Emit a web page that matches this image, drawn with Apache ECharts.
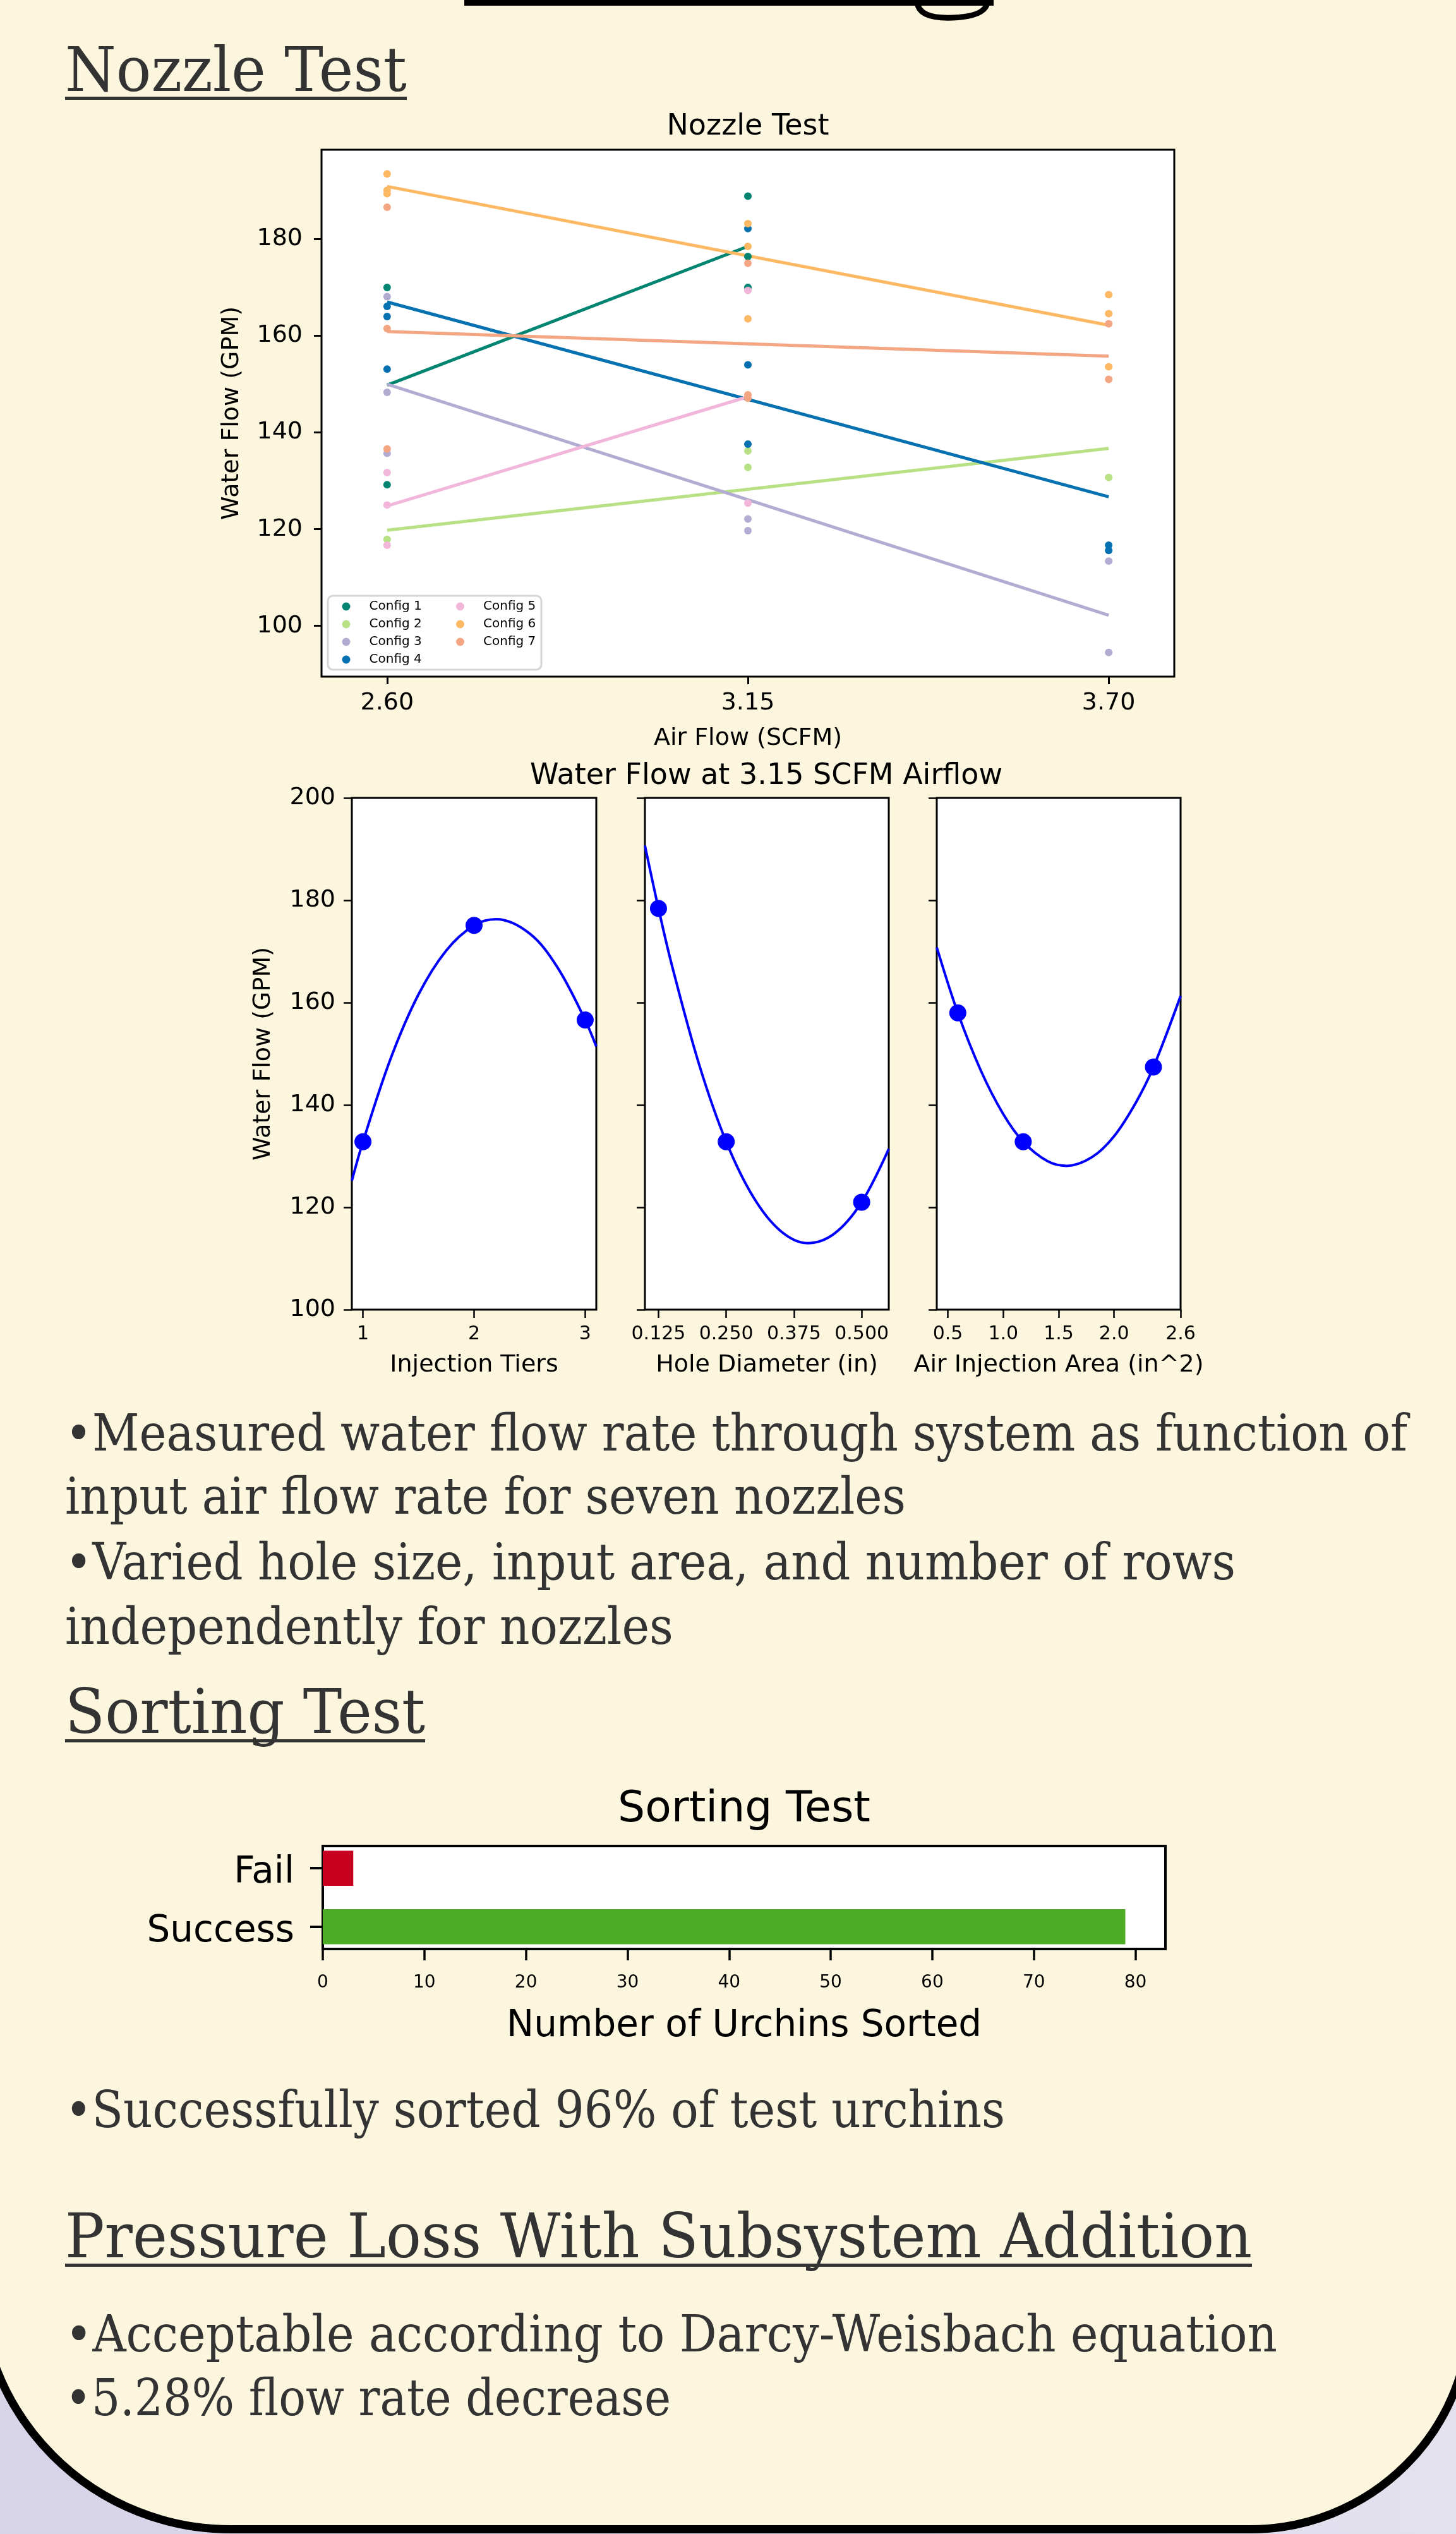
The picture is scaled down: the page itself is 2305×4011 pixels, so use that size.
<!DOCTYPE html>
<html><head><meta charset="utf-8">
<script src="https://cdn.jsdelivr.net/npm/echarts@6/dist/echarts.min.js"></script>
<style>
html,body{margin:0;padding:0;width:2305px;height:4011px;overflow:hidden;}
#bg{position:absolute;left:0;top:0;}
#chart{position:absolute;left:0;top:0;width:2305px;height:4011px;}
.body{font-family:"DejaVu Serif",serif;fill:#333;font-size:80px;}
.head{font-family:"DejaVu Serif",serif;fill:#333;font-size:98px;}
</style></head><body>
<svg id="bg" width="2305" height="4011" xmlns="http://www.w3.org/2000/svg">
<defs><linearGradient id="lav" x1="0" y1="0" x2="1" y2="0"><stop offset="0" stop-color="#d7d3e8"/><stop offset="1" stop-color="#e4e1ef"/></linearGradient></defs>
<rect x="0" y="0" width="2305" height="4011" fill="url(#lav)"/>
<path d="M -32.5 -100 L -32.5 3606 A 397.5 397.5 0 0 0 365 4003.5 L 1980 4003.5 A 347.5 347.5 0 0 0 2327.5 3656 L 2327.5 -100 Z" fill="#fdf6de" stroke="#000" stroke-width="13"/>
<rect x="735" y="0" width="838" height="9" fill="#000"/>
<path d="M1452,4 Q1455,30 1508,28 Q1560,26 1563,4" fill="none" stroke="#000" stroke-width="9"/>
<text class="head" x="103" y="144" textLength="541" lengthAdjust="spacingAndGlyphs">Nozzle Test</text>
<rect x="103" y="153" width="541" height="5" fill="#333"/>
<text class="body" x="103" y="2296" textLength="2125" lengthAdjust="spacingAndGlyphs">•Measured water flow rate through system as function of</text>
<text class="body" x="103" y="2396" textLength="1331" lengthAdjust="spacingAndGlyphs">input air flow rate for seven nozzles</text>
<text class="body" x="103" y="2500" textLength="1853" lengthAdjust="spacingAndGlyphs">•Varied hole size, input area, and number of rows</text>
<text class="body" x="103" y="2602" textLength="963" lengthAdjust="spacingAndGlyphs">independently for nozzles</text>
<text class="head" x="103" y="2743" textLength="570" lengthAdjust="spacingAndGlyphs">Sorting Test</text>
<rect x="103" y="2753" width="570" height="5" fill="#333"/>
<text class="body" x="103" y="3367" textLength="1488" lengthAdjust="spacingAndGlyphs">•Successfully sorted 96% of test urchins</text>
<text class="head" x="103" y="3573" textLength="1879" lengthAdjust="spacingAndGlyphs">Pressure Loss With Subsystem Addition</text>
<rect x="103" y="3583" width="1879" height="5" fill="#333"/>
<text class="body" x="103" y="3722" textLength="1919" lengthAdjust="spacingAndGlyphs">•Acceptable according to Darcy-Weisbach equation</text>
<text class="body" x="103" y="3823" textLength="959" lengthAdjust="spacingAndGlyphs">•5.28% flow rate decrease</text>
</svg>
<div id="chart"></div>
<script>
// ---------- Nozzle Test data ----------
const airFlowTicks = [2.60, 3.15, 3.70];
const waterFlowTicks = [100, 120, 140, 160, 180];
const configNames = ['Config 1', 'Config 2', 'Config 3', 'Config 4', 'Config 5', 'Config 6', 'Config 7'];
const configColors = ['#018571', '#b8e186', '#b2abd2', '#0571b0', '#f1b6da', '#fdb863', '#f4a582'];
const config1Points = [[2.60,170.0],[2.60,129.2],[3.15,188.9],[3.15,176.4],[3.15,170.0]];
const config2Points = [[2.60,117.9],[3.15,136.2],[3.15,132.8],[3.70,130.7]];
const config3Points = [[2.60,168.1],[2.60,148.3],[2.60,135.7],[3.15,122.1],[3.15,119.7],[3.70,113.4],[3.70,94.5]];
const config4Points = [[2.60,166.1],[2.60,164.0],[2.60,153.1],[3.15,182.2],[3.15,154.0],[3.15,137.6],[3.70,116.7],[3.70,115.6]];
const config5Points = [[2.60,131.7],[2.60,125.0],[2.60,116.7],[3.15,169.4],[3.15,125.4]];
const config6Points = [[2.60,193.5],[2.60,190.1],[2.60,189.4],[3.15,183.2],[3.15,178.5],[3.15,163.5],[3.70,168.5],[3.70,164.6],[3.70,153.6]];
const config7Points = [[2.60,186.6],[2.60,161.5],[2.60,136.6],[3.15,175.0],[3.15,147.8],[3.15,147.1],[3.70,162.5],[3.70,151.0]];
const config1Fit = [[2.60,149.8],[3.15,178.5]];
const config2Fit = [[2.60,119.8],[3.70,136.7]];
const config3Fit = [[2.60,150.0],[3.70,102.2]];
const config4Fit = [[2.60,167.0],[3.70,126.7]];
const config5Fit = [[2.60,124.8],[3.15,147.4]];
const config6Fit = [[2.60,190.9],[3.70,162.2]];
const config7Fit = [[2.60,160.9],[3.70,155.8]];

// ---------- Water flow at 3.15 SCFM ----------
const tiersTicks = [1, 2, 3];
const injectionTiers = [1, 2, 3];
const tiersFlow = [132.8, 175.1, 156.6];
const tiersCurveX = [0.9, 1.0, 1.25, 1.5, 1.75, 2.0, 2.2, 2.5, 2.75, 3.0, 3.1];
const tiersCurveY = [125.2, 132.8, 149.1, 161.6, 170.2, 175.1, 176.3, 173.5, 166.9, 156.6, 151.4];

const holeTicks = [0.125, 0.25, 0.375, 0.5];
const holeDiameter = [0.125, 0.25, 0.5];
const holeFlow = [178.4, 132.8, 121.0];
const holeCurveX = [0.10, 0.125, 0.15, 0.20, 0.25, 0.30, 0.35, 0.40, 0.45, 0.50, 0.55];
const holeCurveY = [190.7, 178.4, 167.2, 147.9, 132.8, 122.0, 115.4, 113.0, 114.9, 121.0, 131.4];

const areaTicks = [0.5, 1.0, 1.5, 2.0, 2.6];
const airArea = [0.59, 1.18, 2.355];
const airAreaFlow = [158.0, 132.8, 147.4];
const areaCurveX = [0.4, 0.59, 0.8, 1.0, 1.18, 1.4, 1.57, 1.8, 2.0, 2.2, 2.355, 2.6];
const areaCurveY = [170.8, 158.0, 146.6, 138.2, 132.8, 129.0, 128.1, 129.8, 133.9, 140.6, 147.4, 161.3];

// ---------- Sorting Test ----------
const sortCategories = ['Success', 'Fail'];
const sortCounts = [79, 3];
const sortColors = ['#4dac26', '#ca0020'];
const sortTicks = [0, 10, 20, 30, 40, 50, 60, 70, 80];

const FONT = 'DejaVu Sans';
const configPoints = [config1Points, config2Points, config3Points, config4Points, config5Points, config6Points, config7Points];
const configFits = [config1Fit, config2Fit, config3Fit, config4Fit, config5Fit, config6Fit, config7Fit];
const zip = (a, b) => a.map((v, i) => [v, b[i]]);

function tick(len, w, custom) {
  const t = { show: true, inside: false, length: len, lineStyle: { color: '#000', width: w } };
  if (custom) t.customValues = custom;
  return t;
}
function label(size, margin, custom, fmt) {
  const l = { show: true, fontSize: size, fontFamily: FONT, color: '#000', margin: margin };
  if (custom) l.customValues = custom;
  if (fmt) l.formatter = fmt;
  return l;
}
const nameStyle = (s) => ({ fontSize: s, fontFamily: FONT, color: '#000' });
const noLine = { show: false, onZero: false };

const grids = [
  { left: 509, top: 237, width: 1350, height: 834 },
  { left: 557, top: 1263, width: 387, height: 810 },
  { left: 1021, top: 1263, width: 386, height: 810 },
  { left: 1483, top: 1263, width: 386, height: 810 },
  { left: 511, top: 2922, width: 1334, height: 163 }
].map((g, i) => Object.assign(g, { show: true, backgroundColor: '#fff', borderColor: '#000', borderWidth: i === 4 ? 4 : 3 }));

const xAxes = [
  { gridIndex: 0, type: 'value', position: 'bottom', min: 2.5, max: 3.8, axisLine: noLine, splitLine: { show: false },
    axisTick: tick(12, 3, airFlowTicks), axisLabel: label(38, 23, airFlowTicks, v => v.toFixed(2)),
    name: 'Air Flow (SCFM)', nameLocation: 'middle', nameGap: 79, nameTextStyle: nameStyle(38) },
  { gridIndex: 1, type: 'value', position: 'bottom', min: 0.9, max: 3.1, axisLine: noLine, splitLine: { show: false },
    axisTick: tick(13, 2.5, tiersTicks), axisLabel: label(30, 24, tiersTicks, v => String(Math.round(v))),
    name: 'Injection Tiers', nameLocation: 'middle', nameGap: 69, nameTextStyle: nameStyle(38) },
  { gridIndex: 2, type: 'value', position: 'bottom', min: 0.1, max: 0.55, axisLine: noLine, splitLine: { show: false },
    axisTick: tick(13, 2.5, holeTicks), axisLabel: label(30, 24, holeTicks, v => v.toFixed(3)),
    name: 'Hole Diameter (in)', nameLocation: 'middle', nameGap: 69, nameTextStyle: nameStyle(38) },
  { gridIndex: 3, type: 'value', position: 'bottom', min: 0.4, max: 2.6, axisLine: noLine, splitLine: { show: false },
    axisTick: tick(13, 2.5, areaTicks), axisLabel: label(30, 24, areaTicks, v => v.toFixed(1)),
    name: 'Air Injection Area (in^2)', nameLocation: 'middle', nameGap: 69, nameTextStyle: nameStyle(38) },
  { gridIndex: 4, type: 'value', position: 'bottom', min: 0, max: 82.95, axisLine: noLine, splitLine: { show: false },
    axisTick: tick(18, 3.5, sortTicks), axisLabel: label(28, 40, sortTicks, v => String(v)),
    name: 'Number of Urchins Sorted', nameLocation: 'middle', nameGap: 94, nameTextStyle: nameStyle(58) }
];
const sortLabel = label(58, 45, [0, 1], v => '{c|' + sortCategories[Math.round(v)] + '}');
sortLabel.rich = { c: { fontSize: 58, fontFamily: FONT, color: '#000', padding: [16, 0, 0, 0] } };
const yAxes = [
  { gridIndex: 0, type: 'value', position: 'left', min: 89.5, max: 198.5, axisLine: noLine, splitLine: { show: false },
    axisTick: tick(12, 3, waterFlowTicks), axisLabel: label(38, 30, waterFlowTicks),
    name: 'Water Flow (GPM)', nameLocation: 'middle', nameGap: 123, nameTextStyle: nameStyle(38) },
  { gridIndex: 1, type: 'value', position: 'left', min: 100, max: 200, interval: 20, axisLine: noLine, splitLine: { show: false },
    axisTick: tick(13, 2.5), axisLabel: label(38, 26),
    name: 'Water Flow (GPM)', nameLocation: 'middle', nameGap: 121, nameTextStyle: nameStyle(38) },
  { gridIndex: 2, type: 'value', position: 'left', min: 100, max: 200, interval: 20, axisLine: noLine, splitLine: { show: false },
    axisTick: tick(13, 2.5), axisLabel: { show: false } },
  { gridIndex: 3, type: 'value', position: 'left', min: 100, max: 200, interval: 20, axisLine: noLine, splitLine: { show: false },
    axisTick: tick(13, 2.5), axisLabel: { show: false } },
  { gridIndex: 4, type: 'value', position: 'left', min: -0.38, max: 1.38, axisLine: noLine, splitLine: { show: false },
    axisTick: tick(20, 4, [0, 1]), axisLabel: sortLabel }
];

const series = [];
configNames.forEach((name, i) => {
  series.push({ name: name, type: 'scatter', xAxisIndex: 0, yAxisIndex: 0, data: configPoints[i],
    symbol: 'circle', symbolSize: 12, itemStyle: { color: configColors[i], opacity: 1 }, z: 2, animation: false });
  series.push({ name: 'fit ' + (i + 1), type: 'line', xAxisIndex: 0, yAxisIndex: 0, data: configFits[i],
    showSymbol: false, symbol: 'none', lineStyle: { color: configColors[i], width: 5 }, itemStyle: { color: configColors[i] }, z: 2, animation: false });
});
const panels = [
  [zip(tiersCurveX, tiersCurveY), zip(injectionTiers, tiersFlow)],
  [zip(holeCurveX, holeCurveY), zip(holeDiameter, holeFlow)],
  [zip(areaCurveX, areaCurveY), zip(airArea, airAreaFlow)]
];
panels.forEach((p, k) => {
  series.push({ type: 'line', xAxisIndex: k + 1, yAxisIndex: k + 1, data: p[0], smooth: 0.35, showSymbol: false, symbol: 'none',
    lineStyle: { color: '#0000ff', width: 4 }, z: 3, animation: false });
  series.push({ type: 'scatter', xAxisIndex: k + 1, yAxisIndex: k + 1, data: p[1], symbolSize: 27,
    itemStyle: { color: '#0000ff', opacity: 1 }, z: 4, animation: false });
});
series.push({
  type: 'custom', xAxisIndex: 4, yAxisIndex: 4,
  data: sortCounts.map((c, i) => [c, i]),
  renderItem: function (params, api) {
    const val = api.value(0), cat = api.value(1);
    const start = api.coord([0, cat]);
    const end = api.coord([val, cat]);
    const h = api.size([0, 0.6])[1];
    return { type: 'rect', shape: { x: start[0], y: start[1] - h / 2, width: end[0] - start[0], height: h },
      style: { fill: sortColors[params.dataIndex] } };
  },
  animation: false
});

const legendBase = {
  orient: 'vertical', icon: 'circle', itemWidth: 13, itemHeight: 13, itemGap: 8, padding: 0, z: 20,
  textStyle: { fontSize: 20, fontFamily: FONT, color: '#000', lineHeight: 20, padding: [0, 0, 0, 25] }
};
const legends = [
  Object.assign({}, legendBase, { data: configNames.slice(0, 4), left: 541.5, top: 950 }),
  Object.assign({}, legendBase, { data: configNames.slice(4), left: 722, top: 950 })
];

const titleText = (t, x, y, s) => ({ type: 'text', x: x, y: y, z: 30,
  style: { text: t, fontSize: s, fontFamily: FONT, fill: '#000', align: 'center', verticalAlign: 'middle', textAlign: 'center', textVerticalAlign: 'middle' } });

const option = {
  animation: false,
  backgroundColor: 'transparent',
  grid: grids, xAxis: xAxes, yAxis: yAxes, series: series, legend: legends,
  graphic: [
    { type: 'rect', z: 10, shape: { x: 519, y: 943, width: 338, height: 117, r: 8 },
      style: { fill: 'rgba(255,255,255,0.85)', stroke: '#d5d5d5', lineWidth: 3 } },
    titleText('Nozzle Test', 1184, 201, 46),
    titleText('Water Flow at 3.15 SCFM Airflow', 1213, 1229, 46),
    titleText('Sorting Test', 1178, 2865, 68)
  ]
};
const chart = echarts.init(document.getElementById('chart'));
chart.setOption(option);
</script>
</body></html>
